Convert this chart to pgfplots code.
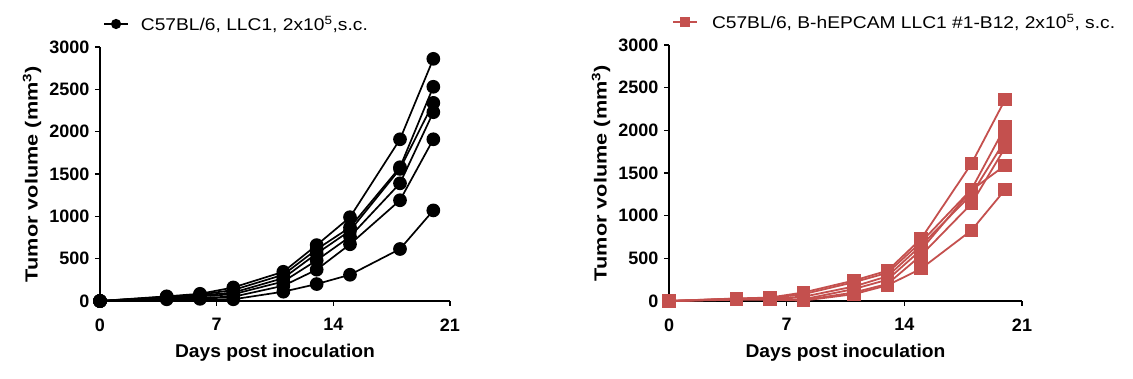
\documentclass[border=0pt]{standalone}
\usepackage{pgfplots}
\pgfplotsset{compat=1.18}
\usepackage{fontspec}
\setmainfont{Liberation Sans}
\definecolor{myred}{RGB}{196,80,78}
\pgfplotsset{
  myaxis/.style={
    scale only axis,
    axis x line*=bottom, axis y line*=left,
    axis line style={line width=1.8pt, black},
    xmin=0, xmax=21, ymin=0, ymax=3000,
    xtick={0,7,14,21}, ytick={0,500,1000,1500,2000,2500,3000},
    tick align=outside, major tick length=5pt,
    every tick/.style={line width=1.5pt, black},
    scaled y ticks=false,
    /pgf/number format/assume math mode=true,
    /pgf/number format/set thousands separator={},
    ticklabel style={font=\fontsize{18}{20}\selectfont\bfseries},
    xticklabel style={yshift=-9pt},
    yticklabel style={xshift=-2pt},
    clip=false,
    every axis y label/.style={at={(axis description cs:0,0.5)}, xshift=-68pt, rotate=90, anchor=center, font=\fontsize{17.5}{20}\selectfont\bfseries},
    every axis x label/.style={at={(axis description cs:0.5,0)}, yshift=-52pt, anchor=center, font=\fontsize{18.5}{20}\selectfont\bfseries},
    ylabel={\scalebox{1.24}[1]{Tumor volume (mm\textsuperscript{3})}},
    xlabel={\scalebox{1.04}[1]{Days post inoculation}},
    legend style={draw=none, fill=none, at={(axis description cs:0,1)}, anchor=west, yshift=23pt, xshift=0pt, font=\fontsize{17}{20}\selectfont},
    legend image code/.code={\draw[mark repeat=2,mark phase=2, mark size=4.2pt] plot coordinates {(0pt,0pt)(12pt,0pt)(24pt,0pt)};},
  },
  blk/.style={black, line width=1.7pt, mark=*, mark size=6pt, mark options={solid, fill=black}},
  rd/.style={myred, line width=1.8pt, mark=square*, mark size=5.8pt, mark options={solid, fill=myred, draw=myred}},
}
\begin{document}
\begin{tikzpicture}[x=1pt,y=1pt]
\useasboundingbox (0,0) rectangle (1133,379);
\begin{axis}[myaxis, at={(100pt,78pt)}, anchor=south west, width=350pt, height=254pt]
\addplot[blk] coordinates {(0,0)(4,55)(6,85)(8,160)(11,345)(13,660)(15,990)(18,1910)(20,2860)};
\addlegendentry{\hspace{10pt}\scalebox{1.13}[1]{C57BL/6, LLC1, 2x10\textsuperscript{5},s.c.}}
\addplot[blk, forget plot] coordinates {(0,0)(4,50)(6,75)(8,130)(11,310)(13,610)(15,870)(18,1580)(20,2530)};
\addplot[blk, forget plot] coordinates {(0,0)(4,45)(6,65)(8,100)(11,270)(13,560)(15,830)(18,1560)(20,2340)};
\addplot[blk, forget plot] coordinates {(0,0)(4,40)(6,55)(8,80)(11,230)(13,480)(15,760)(18,1390)(20,2230)};
\addplot[blk, forget plot] coordinates {(0,0)(4,30)(6,40)(8,50)(11,180)(13,370)(15,670)(18,1190)(20,1910)};
\addplot[blk, forget plot] coordinates {(0,0)(4,20)(6,25)(8,20)(11,110)(13,200)(15,310)(18,614)(20,1070)};
\end{axis}
\begin{axis}[myaxis, at={(669pt,78pt)}, anchor=south west, width=353pt, height=256pt]
\addplot[rd] coordinates {(0,0)(4,30)(6,40)(8,100)(11,240)(13,355)(15,730)(18,1611)(20,2362)};
\addlegendentry{\hspace{12pt}\scalebox{1.13}[1]{C57BL/6, B-hEPCAM LLC1 \#1-B12, 2x10\textsuperscript{5}, s.c.}}
\addplot[rd, forget plot] coordinates {(0,0)(4,28)(6,35)(8,80)(11,220)(13,330)(15,690)(18,1310)(20,2041)};
\addplot[rd, forget plot] coordinates {(0,0)(4,25)(6,30)(8,50)(11,170)(13,290)(15,650)(18,1250)(20,1885)};
\addplot[rd, forget plot] coordinates {(0,0)(4,22)(6,25)(8,20)(11,140)(13,250)(15,600)(18,1300)(20,1590)};
\addplot[rd, forget plot] coordinates {(0,0)(4,20)(6,20)(8,10)(11,100)(13,200)(15,536)(18,1142)(20,1799)};
\addplot[rd, forget plot] coordinates {(0,0)(4,15)(6,15)(8,5)(11,80)(13,184)(15,379)(18,829)(20,1306)};
\end{axis}
\end{tikzpicture}
\end{document}
